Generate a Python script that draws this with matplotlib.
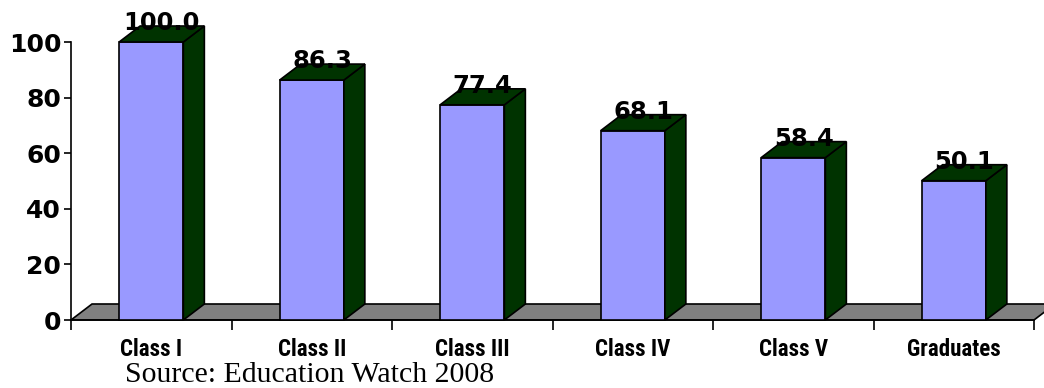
import matplotlib.pyplot as plt
from matplotlib.patches import Polygon

categories = ["Class I", "Class II", "Class III", "Class IV", "Class V", "Graduates"]
values = [100.0, 86.3, 77.4, 68.1, 58.4, 50.1]
yticks = [0, 20, 40, 60, 80, 100]

front_col = "#9999ff"
dark_col = "#003300"
floor_col = "#808080"

fig = plt.figure(figsize=(10.44, 3.88), dpi=100)
ax = fig.add_axes([71 / 1044, 68 / 388, 963 / 1044, 278 / 388])
ax.set_xlim(0, len(categories))
ax.set_ylim(0, 100)

# depth of the fake 3d effect, in data units
dx = 21 / 160.5
dy = 16 / 2.78
bw = 0.4

n = len(categories)
floor = Polygon([(0, 0), (n, 0), (n + dx, dy), (dx, dy)], closed=True,
                facecolor=floor_col, edgecolor="black", lw=1.2, clip_on=False, zorder=1)
ax.add_patch(floor)

for i, v in enumerate(values):
    x0 = i + 0.5 - bw / 2
    x1 = i + 0.5 + bw / 2
    front = Polygon([(x0, 0), (x1, 0), (x1, v), (x0, v)], closed=True,
                    facecolor=front_col, edgecolor="black", lw=1.2, clip_on=False, zorder=3)
    side = Polygon([(x1, 0), (x1 + dx, dy), (x1 + dx, v + dy), (x1, v)], closed=True,
                   facecolor=dark_col, edgecolor="black", lw=1.2, clip_on=False, zorder=3)
    top = Polygon([(x0, v), (x1, v), (x1 + dx, v + dy), (x0 + dx, v + dy)], closed=True,
                  facecolor=dark_col, edgecolor="black", lw=1.2, clip_on=False, zorder=3)
    for p in (front, side, top):
        ax.add_patch(p)
    ax.text(i + 0.5 + dx / 2, v + dy + 1.0, f"{v:.1f}", ha="center", va="center",
            fontsize=17.5, fontweight="bold", color="black", family="DejaVu Sans", zorder=5)

for s in ("top", "right", "bottom"):
    ax.spines[s].set_visible(False)
ax.spines["left"].set_linewidth(1.2)

ax.set_yticks(yticks)
ax.set_yticklabels([str(t) for t in yticks], fontsize=18, fontweight="bold")
ax.tick_params(axis="y", length=5, width=1.2, pad=2)

ax.set_xticks(range(n + 1))
ax.set_xticklabels([])
ax.tick_params(axis="x", length=7, width=1.2, direction="out")
ax.plot([0, n], [0, 0], color="black", lw=1.2, clip_on=False, zorder=2)

for i, c in enumerate(categories):
    ax.text(i + 0.5, -6.6, c, ha="center", va="top", fontsize=16.5, fontweight="bold",
            fontstretch="condensed", family=["Roboto Condensed", "DejaVu Sans"])

fig.text(125 / 1044, 1 - 381.5 / 388, "Source: Education Watch 2008", ha="left",
         va="baseline", fontsize=21.5, family="Liberation Serif")

fig.savefig("out.png", dpi=100)
